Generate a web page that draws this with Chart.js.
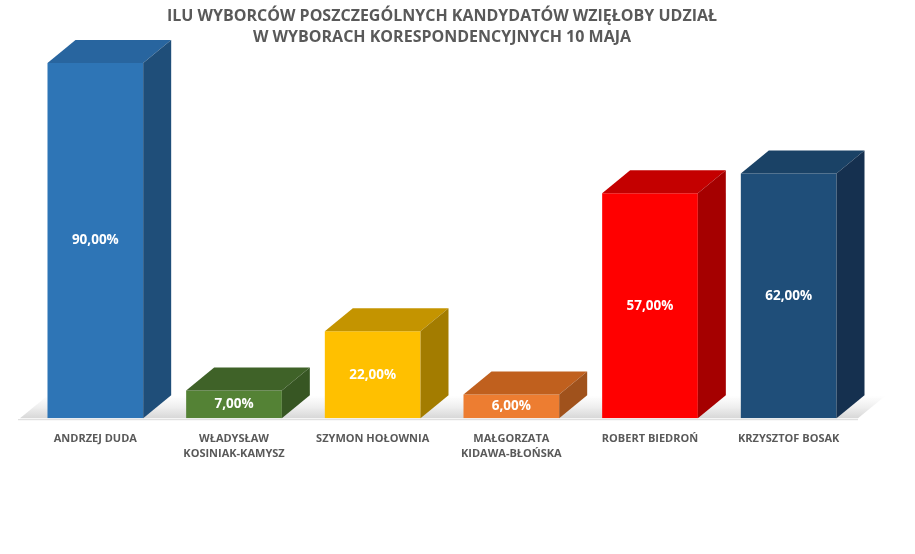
<!DOCTYPE html>
<html>
<head>
<meta charset="utf-8">
<script src="https://cdn.jsdelivr.net/npm/chart.js@4.4.0/dist/chart.umd.min.js"></script>
<style>
  html, body { margin: 0; padding: 0; background: #fff; }
</style>
</head>
<body>
<canvas id="electionChart" width="915" height="554"></canvas>
<script>
const candidates = [
    ['ANDRZEJ DUDA'],
    ['WŁADYSŁAW', 'KOSINIAK-KAMYSZ'],
    ['SZYMON HOŁOWNIA'],
    ['MAŁGORZATA', 'KIDAWA-BŁOŃSKA'],
    ['ROBERT BIEDROŃ'],
    ['KRZYSZTOF BOSAK']
];
const shares = [90, 7, 22, 6, 57, 62];
const titleLines = [
    'ILU WYBORCÓW POSZCZEGÓLNYCH KANDYDATÓW WZIĘŁOBY UDZIAŁ',
    'W WYBORACH KORESPONDENCYJNYCH 10 MAJA'
];

// front, top, side colours for each bar
const frontColors = ['#2E75B6', '#548235', '#FFC000', '#ED7D31', '#FF0000', '#1F4E79'];
const topColors = ['#28659F', '#3F6228', '#C49400', '#C0601E', '#C40000', '#1A4266'];
const sideColors = ['#1F4E79', '#375623', '#A37C00', '#A0521C', '#A50000', '#15304F'];

const depthX = 28;
const depthY = 23;

const bars3d = {
    id: 'bars3d',
    beforeDatasetsDraw(chart) {
        const { ctx, chartArea } = chart;
        const base = chartArea.bottom;
        // floor
        ctx.save();
        const g = ctx.createLinearGradient(0, base - depthY, 0, base);
        g.addColorStop(0, 'rgba(230,230,230,0)');
        g.addColorStop(1, 'rgba(215,215,215,1)');
        ctx.fillStyle = g;
        ctx.beginPath();
        ctx.moveTo(chartArea.left - 6, base);
        ctx.lineTo(chartArea.left + depthX - 6, base - depthY);
        ctx.lineTo(chartArea.right + depthX, base - depthY);
        ctx.lineTo(chartArea.right, base);
        ctx.closePath();
        ctx.fill();
        ctx.strokeStyle = '#d9d9d9';
        ctx.lineWidth = 1;
        ctx.beginPath();
        ctx.moveTo(chartArea.left - 8, base + 1.5);
        ctx.lineTo(chartArea.right, base + 1.5);
        ctx.stroke();
        ctx.restore();
    },
    afterDatasetsDraw(chart) {
        const { ctx } = chart;
        const meta = chart.getDatasetMeta(0);
        ctx.save();
        meta.data.forEach((bar, i) => {
            const p = bar.getProps(['x', 'y', 'base', 'width'], true);
            const l = p.x - p.width / 2;
            const r = p.x + p.width / 2;
            // top face
            ctx.fillStyle = topColors[i];
            ctx.beginPath();
            ctx.moveTo(l, p.y);
            ctx.lineTo(l + depthX, p.y - depthY);
            ctx.lineTo(r + depthX, p.y - depthY);
            ctx.lineTo(r, p.y);
            ctx.closePath();
            ctx.fill();
            // side face
            ctx.fillStyle = sideColors[i];
            ctx.beginPath();
            ctx.moveTo(r, p.y);
            ctx.lineTo(r + depthX, p.y - depthY);
            ctx.lineTo(r + depthX, p.base - depthY);
            ctx.lineTo(r, p.base);
            ctx.closePath();
            ctx.fill();
            // value label
            ctx.fillStyle = '#ffffff';
            ctx.font = 'bold 13.5px "Open Sans"';
            ctx.textAlign = 'center';
            ctx.textBaseline = 'middle';
            const txt = shares[i].toFixed(2).replace('.', ',') + '%';
            ctx.fillText(txt, p.x, (p.y + p.base) / 2);
        });
        ctx.restore();
    }
};

const ctx = document.getElementById('electionChart');
const myChart = new Chart(ctx, {
    type: 'bar',
    data: {
        labels: candidates,
        datasets: [{
            data: shares,
            backgroundColor: frontColors,
            borderWidth: 0,
            barPercentage: 0.69,
            categoryPercentage: 1
        }]
    },
    options: {
        responsive: false,
        animation: false,
        layout: {
            padding: { left: 26, right: 57, top: 0, bottom: 87 }
        },
        plugins: {
            legend: { display: false },
            tooltip: { enabled: false },
            title: {
                display: true,
                text: titleLines,
                color: '#595959',
                font: { family: '"Open Sans"', size: 16, weight: 'bold', lineHeight: 1.3 },
                padding: { top: 6, bottom: 15.4 }
            }
        },
        scales: {
            x: {
                grid: { display: false },
                border: { display: false },
                ticks: {
                    color: '#595959',
                    padding: 5,
                    maxRotation: 0,
                    autoSkip: false,
                    font: { family: '"Open Sans"', size: 11, weight: 'bold', lineHeight: 1.4 }
                }
            },
            y: {
                display: false,
                min: 0,
                max: 90
            }
        }
    },
    plugins: [bars3d]
});
</script>
</body>
</html>
